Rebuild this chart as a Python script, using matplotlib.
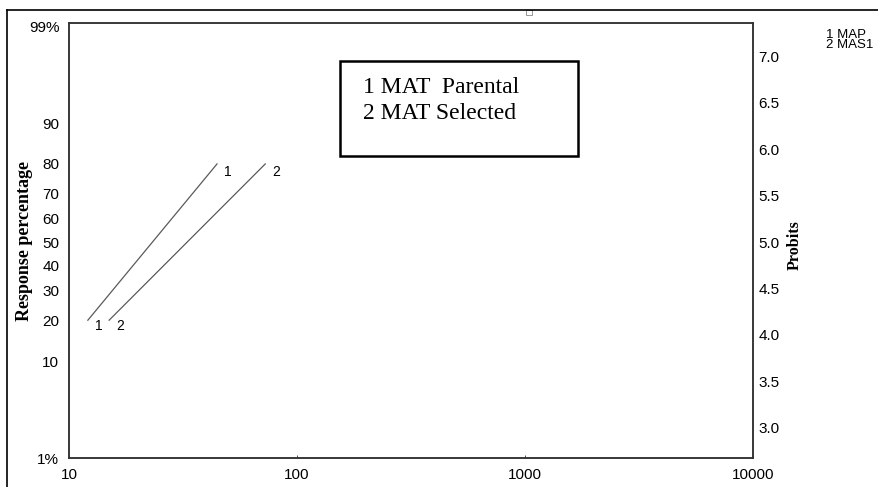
from statistics import NormalDist

import matplotlib
matplotlib.use("Agg")
import matplotlib.pyplot as plt
from matplotlib.lines import Line2D
from matplotlib.patches import Rectangle

# fitted probit lines (dose, response %)
dose_1 = [12.1, 44.6]
pct_1 = [20, 80]
dose_2 = [15.0, 72.6]
pct_2 = [20, 80]
line_names = ["1", "2"]

pct_ticks = [1, 10, 20, 30, 40, 50, 60, 70, 80, 90, 99]
pct_labels = ["1%", "10", "20", "30", "40", "50", "60", "70", "80", "90", "99%"]
probit_ticks = [3.0, 3.5, 4.0, 4.5, 5.0, 5.5, 6.0, 6.5, 7.0]
dose_ticks = [10, 100, 1000, 10000]

legend_lines = ["1 MAT  Parental", "2 MAT Selected"]
corner_lines = ["1 MAP", "2 MAS1"]


def probit(p):
    # probit = normal quantile + 5
    return NormalDist().inv_cdf(p / 100.0) + 5


sans = ["Liberation Sans", "DejaVu Sans"]
serif = ["Liberation Serif", "DejaVu Serif"]
line_col = "#5a5a5a"
spine_col = "#333333"

fig = plt.figure(figsize=(8.79, 4.87), dpi=100)
ax = fig.add_axes([0.0785, 0.0595, 0.778, 0.8933])

for d, p, name in [(dose_1, pct_1, line_names[0]), (dose_2, pct_2, line_names[1])]:
    y = [probit(v) for v in p]
    ax.plot(d, y, color=line_col, lw=0.9)
    # number labels at both ends, a little right and below
    ax.annotate(name, (d[0], y[0]), xytext=(5, -4), textcoords="offset points",
                ha="left", va="center", fontsize=10, family=sans)
    ax.annotate(name, (d[1], y[1]), xytext=(5, -6), textcoords="offset points",
                ha="left", va="center", fontsize=10, family=sans)

ax.set_xscale("log")
ax.set_xlim(10, 10000)
ax.set_ylim(2.68, 7.36)
ax.set_xticks(dose_ticks)
ax.set_xticklabels([str(t) for t in dose_ticks], family=sans, fontsize=11)
ax.xaxis.set_minor_locator(matplotlib.ticker.NullLocator())
ax.tick_params(axis="x", direction="in", length=2, width=0.6, color=spine_col, pad=7)

ax.set_yticks([probit(v) for v in pct_ticks])
ax.set_yticklabels(pct_labels, family=sans, fontsize=11)
ax.tick_params(axis="y", length=0, pad=7)
ax.set_ylabel("Response percentage", family=serif, fontweight="bold", fontsize=13)
ax.yaxis.set_label_coords(-0.053, 0.5)

ax2 = ax.twinx()
ax2.set_ylim(ax.get_ylim())
ax2.set_yticks(probit_ticks)
ax2.set_yticklabels([f"{t:.1f}" for t in probit_ticks], family=sans, fontsize=11)
ax2.tick_params(axis="y", length=0, pad=4)
ax2.set_ylabel("Probits", family=serif, fontweight="bold", fontsize=11.5)
ax2.yaxis.set_label_coords(1.05, 0.49)

for a in (ax, ax2):
    for s in a.spines.values():
        s.set_color(spine_col)
        s.set_linewidth(1.1)

# boxed key inside the plot
ax.add_patch(Rectangle((0.396, 0.695), 0.349, 0.218, transform=ax.transAxes,
                       fill=False, lw=1.8, ec="black", zorder=5))
ax.text(0.430, 0.851, legend_lines[0], transform=ax.transAxes, family=serif,
        fontsize=17, va="center", ha="left")
ax.text(0.430, 0.791, legend_lines[1], transform=ax.transAxes, family=serif,
        fontsize=17, va="center", ha="left")

# key text at the top right, clipped by the image edge
fig.text(0.940, 0.917, "\n".join(corner_lines), family=sans, fontsize=9.5,
         va="center", ha="left", linespacing=0.78)

# outer frame of the screenshot
fig.add_artist(Line2D([0.008, 1.0], [0.979, 0.979], color="black", lw=1.2, transform=fig.transFigure))
fig.add_artist(Line2D([0.008, 0.008], [0.0, 0.979], color="black", lw=1.2, transform=fig.transFigure))
fig.add_artist(Rectangle((0.598, 0.970), 0.007, 0.009, transform=fig.transFigure,
                         fill=False, lw=0.6, ec="#888888"))

fig.savefig("out.png", dpi=100)
